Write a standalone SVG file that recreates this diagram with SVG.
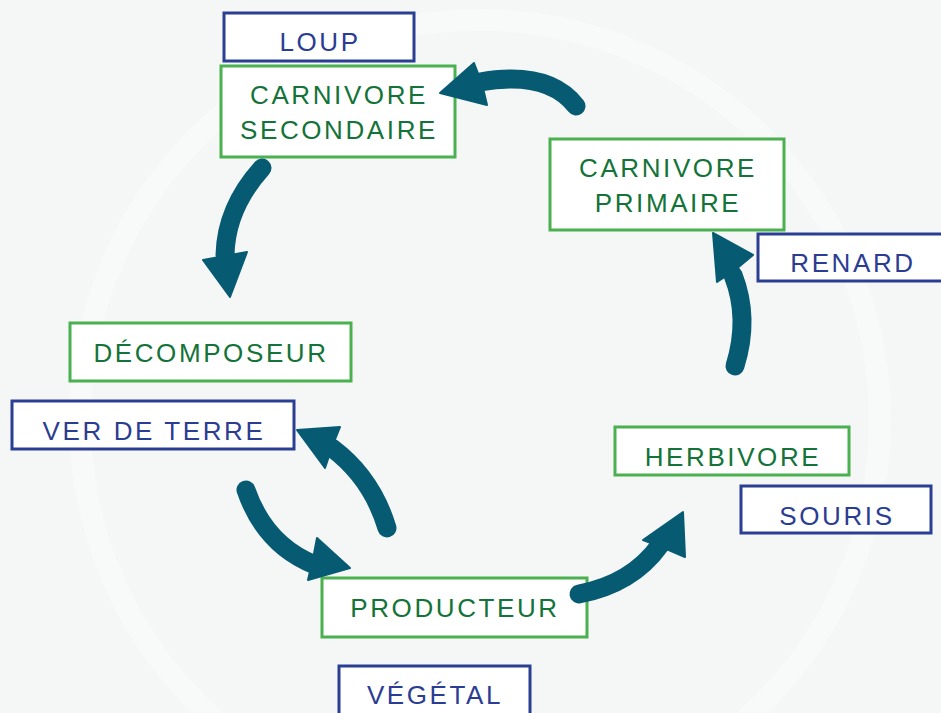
<svg xmlns="http://www.w3.org/2000/svg" width="941" height="713" viewBox="0 0 941 713">
<style>
.g{fill:#ffffff;stroke:#4bb04f;stroke-width:3}
.b{fill:#ffffff;stroke:#2a3f94;stroke-width:3}
.gt{fill:#137339;font-family:"Liberation Sans",Arial,sans-serif;font-size:26px;letter-spacing:2.6px;text-anchor:middle}
.bt{fill:#2b3d92;font-family:"Liberation Sans",Arial,sans-serif;font-size:26px;letter-spacing:2.6px;text-anchor:middle}
.body{fill:none;stroke:#065b73;stroke-width:19;stroke-linecap:round}
.head{fill:#065b73;stroke:#065b73;stroke-width:2;stroke-linejoin:round}
</style>
<rect width="941" height="713" fill="#f5f7f7"/>
<g fill="none" stroke="#ffffff" stroke-width="22" opacity="0.3">
<circle cx="480" cy="420" r="400"/>
</g>
<g id="loup"><rect class="b" x="224" y="13" width="190" height="48"/><text class="bt" x="320" y="51">LOUP</text></g>
<g id="carnivore-secondaire"><rect class="g" x="221" y="66" width="234" height="91"/><text class="gt" x="339" y="104">CARNIVORE</text><text class="gt" x="339" y="139">SECONDAIRE</text></g>
<g id="carnivore-primaire"><rect class="g" x="550" y="139" width="234" height="91"/><text class="gt" x="668" y="177">CARNIVORE</text><text class="gt" x="668" y="212">PRIMAIRE</text></g>
<g id="renard"><rect class="b" x="758" y="234" width="190" height="47"/><text class="bt" x="853" y="272">RENARD</text></g>
<g id="decomposeur"><rect class="g" x="70" y="323" width="281" height="58"/><text class="gt" x="211" y="362">DÉCOMPOSEUR</text></g>
<g id="ver-de-terre"><rect class="b" x="12" y="401" width="282" height="48"/><text class="bt" x="154" y="440">VER DE TERRE</text></g>
<g id="herbivore"><rect class="g" x="615" y="427" width="234" height="48"/><text class="gt" x="733" y="466">HERBIVORE</text></g>
<g id="souris"><rect class="b" x="741" y="486" width="190" height="47"/><text class="bt" x="837" y="525">SOURIS</text></g>
<g id="producteur"><rect class="g" x="322" y="578" width="265" height="59"/><text class="gt" x="455" y="617">PRODUCTEUR</text></g>
<g id="vegetal"><rect class="b" x="339" y="666" width="191" height="60"/><text class="bt" x="435" y="704">VÉGÉTAL</text></g>
<g id="connectors">
<path class="body" d="M576,106 Q548,70 480,82"/>
<path class="head" d="M440,93 L474,63 L482,84 L487,105 Z"/>
<path class="body" d="M262,168 Q226,208 225,255"/>
<path class="head" d="M230,297 L203,260 L225,256 L247,252 Z"/>
<path class="body" d="M735,366 Q750,318 733,275"/>
<path class="head" d="M713,233 L753,255 L735,270 L717,282 Z"/>
<path class="body" d="M579,594 Q632,584 660,545"/>
<path class="head" d="M683,512 L685,557 L664,548 L643,540 Z"/>
<path class="body" d="M387,528 Q372,478 332,448"/>
<path class="head" d="M297,430 L340,427 L332,447 L325,468 Z"/>
<path class="body" d="M246,490 Q265,545 315,565"/>
<path class="head" d="M350,568 L308,580 L313,559 L317,538 Z"/>
</g>
</svg>
